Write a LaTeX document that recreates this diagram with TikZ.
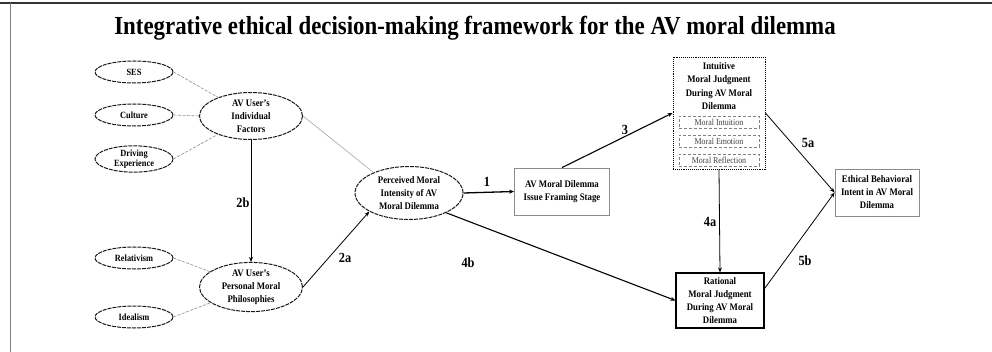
\documentclass[tikz,border=0pt]{standalone}
\usepackage{fontspec}
\setmainfont{Liberation Serif}[FakeStretch=0.88]
\usetikzlibrary{positioning,shapes.geometric,arrows.meta}

\tikzset{
  factor/.style={ellipse,draw=black!90,line width=1pt,dash pattern=on 4pt off 1pt,inner sep=0pt,
    minimum width=78pt,minimum height=22pt,align=center,font=\fontsize{9.5}{10}\selectfont\bfseries},
  construct/.style={factor,minimum width=103pt,minimum height=47pt,font=\fontsize{10}{13}\selectfont\bfseries},
  stagebox/.style={draw=black!45,line width=0.8pt,align=center,inner sep=0pt,font=\fontsize{10}{13}\selectfont\bfseries},
  subbox/.style={draw=black!50,densely dashed,line width=0.5pt,minimum width=80pt,minimum height=12pt,
    inner sep=0pt,font=\fontsize{9}{10}\selectfont,text=black!75},
  feed/.style={draw=black!45,dash pattern=on 3pt off 1.5pt,line width=0.6pt},
  flow/.style={-{Stealth[length=5pt,width=4pt]},line width=0.8pt},
  plabel/.style={font=\fontsize{14}{14}\selectfont\bfseries},
}

\begin{document}
\begin{tikzpicture}[x=1pt,y=-1pt]
  \useasboundingbox (0,0) rectangle (992,352);
  % frame
  \draw[black!80,line width=2.5pt] (0,3) -- (992,3);
  \draw[black!50,line width=0.8pt] (10,3) -- (10,352);

  \node[font=\fontsize{26}{28}\selectfont\bfseries] (title) at (475,28)
    {Integrative ethical decision-making framework for the AV moral dilemma};

  % antecedents
  \node[factor] (ses) at (134,72) {SES};
  \node[factor] (cult) at (134,115) {Culture};
  \node[factor] (drv) at (134,159) {Driving\\Experience};
  \node[factor] (rel) at (134,258) {Relativism};
  \node[factor] (ideal) at (134,317) {Idealism};

  \node[construct] (indiv) at (251,116) {AV User's\\Individual\\Factors};
  \node[construct] (persn) at (251,287) {AV User's\\Personal Moral\\Philosophies};
  \node[construct,minimum width=108pt,minimum height=53pt] (perc) at (409,193)
    {Perceived Moral\\Intensity of AV\\Moral Dilemma};

  \node[stagebox,minimum width=95pt,minimum height=47pt] (frame) at (562,191.5)
    {AV Moral Dilemma\\Issue Framing Stage};

  % intuitive judgment with its three parts
  \node[draw,densely dotted,line width=0.9pt,minimum width=92pt,minimum height=112pt] (intuit) at (719,113) {};
  \node[align=center,font=\fontsize{10}{13.3}\selectfont\bfseries] (intuitT) at (719,86)
    {Intuitive\\Moral Judgment\\During AV Moral\\Dilemma};
  \node[subbox] (mi) at (719,122) {Moral Intuition};
  \node[subbox] (me) at (719,141) {Moral Emotion};
  \node[subbox] (mr) at (719,160) {Moral Reflection};

  \node[stagebox,draw=black,line width=1.1pt,minimum width=88pt,minimum height=55pt] (rat) at (720,300.5)
    {Rational\\Moral Judgment\\During AV Moral\\Dilemma};
  \node[stagebox,minimum width=84pt,minimum height=47pt] (eth) at (877,192.5)
    {Ethical Behavioral\\Intent in AV Moral\\Dilemma};

  % dashed feeds
  \draw[feed] (ses.east) -- (indiv);
  \draw[feed] (cult.east) -- (indiv.west);
  \draw[feed] (drv.east) -- (indiv);
  \draw[feed] (rel.east) -- (persn);
  \draw[feed] (ideal.east) -- (persn);
  \draw[black!35,line width=0.6pt] (indiv.east) -- (perc.150);

  % paths
  \draw[flow] (indiv.south) -- (persn.north);
  \draw[flow] (persn.east) -- (perc.205);
  \draw[flow,line width=1.3pt] (perc.east) -- (frame.west);
  \draw[flow,line width=1.1pt] (frame.north) -- (intuit.west);
  \draw[flow,line width=1.1pt] (perc.332) -- (rat.west);
  \draw[flow] (intuit.south) -- (rat.north);
  \draw[flow] (intuit.east) -- (eth.west);
  \draw[flow] (rat.15) -- (eth.west);

  \node[plabel] (l2b) at (243,203) {2b};
  \node[plabel] (l2a) at (345,258) {2a};
  \node[plabel] (l1) at (487,182) {1};
  \node[plabel] (l3) at (625,130) {3};
  \node[plabel] (l4b) at (468,263) {4b};
  \node[plabel] (l4a) at (710,222) {4a};
  \node[plabel] (l5a) at (808,143) {5a};
  \node[plabel] (l5b) at (805,261) {5b};
\end{tikzpicture}
\end{document}
